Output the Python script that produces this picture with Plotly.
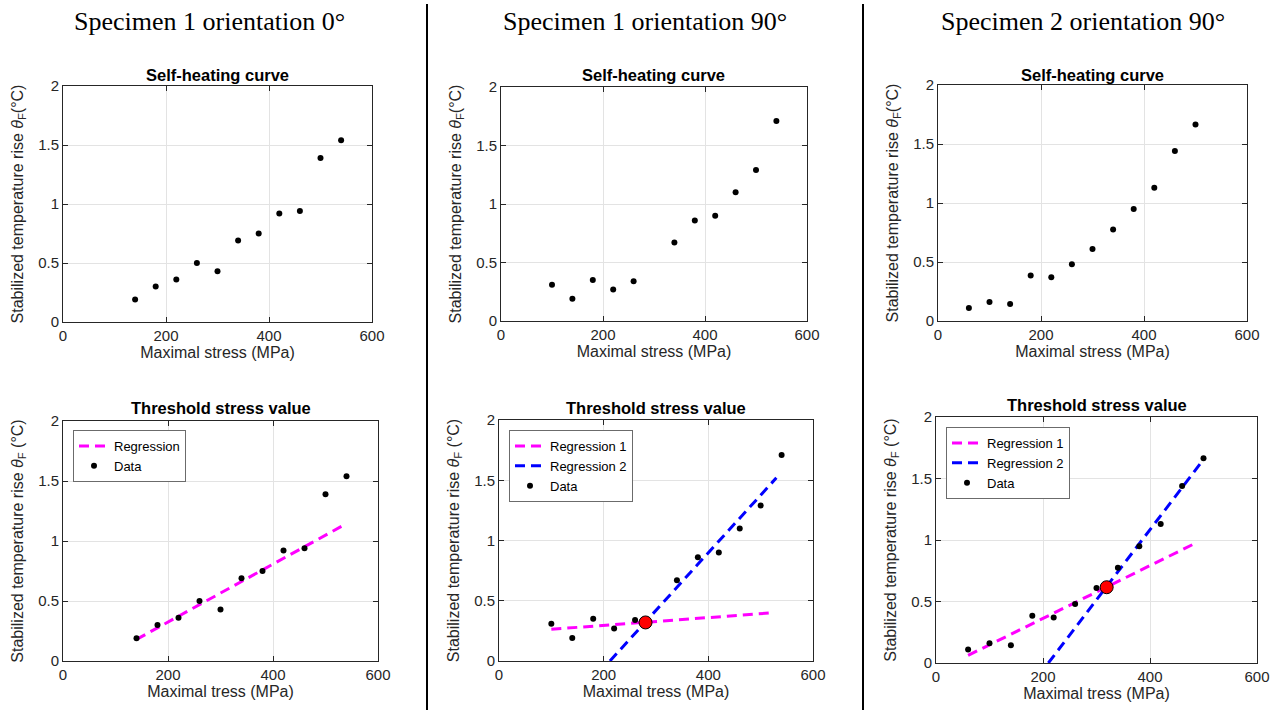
import plotly.graph_objects as go

W, H = 1278, 710

# ---------------- data ----------------
stress_s1_0 = [140, 180, 220, 260, 300, 340, 380, 420, 460, 500, 540]
theta_s1_0 = [0.19, 0.30, 0.36, 0.50, 0.43, 0.69, 0.75, 0.92, 0.94, 1.39, 1.54]
reg_s1_0_x = [140, 540]
reg_s1_0_y = [0.18, 1.145]

stress_s1_90 = [100, 140, 180, 220, 260, 340, 380, 420, 460, 500, 540]
theta_s1_90 = [0.31, 0.19, 0.35, 0.27, 0.34, 0.67, 0.86, 0.90, 1.10, 1.29, 1.71]
reg1_s1_90_x = [100, 523]
reg1_s1_90_y = [0.263, 0.40]
reg2_s1_90_x = [212, 530]
reg2_s1_90_y = [0.0, 1.52]
thr_s1_90_x = [280]
thr_s1_90_y = [0.32]

stress_s2_90 = [60, 100, 140, 180, 220, 260, 300, 340, 380, 420, 460, 500]
theta_s2_90 = [0.11, 0.16, 0.145, 0.385, 0.37, 0.48, 0.61, 0.775, 0.95, 1.13, 1.44, 1.665]
reg1_s2_90_x = [60, 482]
reg1_s2_90_y = [0.062, 0.968]
reg2_s2_90_x = [210, 499]
reg2_s2_90_y = [0.0, 1.649]
thr_s2_90_x = [319]
thr_s2_90_y = [0.616]

x_ticks = [0, 200, 400, 600]
y_ticks = [0, 0.5, 1, 1.5, 2]
y_ticklabels = ["0", "0.5", "1", "1.5", "2"]

main_titles = ["Specimen 1 orientation 0°", "Specimen 1 orientation 90°", "Specimen 2 orientation 90°"]

# ---------------- layout geometry (pixels) ----------------
panels = [  # left, right, top, bottom
    (63, 372, 86, 322),
    (501, 807, 87, 321),
    (938, 1247, 85, 321),
    (63, 378, 421, 661),
    (499, 813, 420, 661),
    (936, 1257, 417, 663),
]

AX = "#262626"
GRID = "#e3e3e3"
FONT = "Liberation Sans, Arial, Helvetica, sans-serif"

fig = go.Figure()

def xy(i):
    return ("x" if i == 0 else f"x{i+1}"), ("y" if i == 0 else f"y{i+1}")

def data_trace(i, xs, ys, legend=None, show=False):
    xa, ya = xy(i)
    fig.add_trace(go.Scatter(
        x=xs, y=ys, mode="markers", name="Data",
        marker=dict(color="black", size=6),
        xaxis=xa, yaxis=ya, showlegend=show,
        legend=legend if legend else "legend"))

def reg_trace(i, xs, ys, name, color, legend):
    xa, ya = xy(i)
    fig.add_trace(go.Scatter(
        x=xs, y=ys, mode="lines", name=name,
        line=dict(color=color, width=3, dash="10px,6px"),
        xaxis=xa, yaxis=ya, showlegend=True, legend=legend))

def thr_trace(i, xs, ys):
    xa, ya = xy(i)
    fig.add_trace(go.Scatter(
        x=xs, y=ys, mode="markers", name="Threshold",
        marker=dict(color="#ff0000", size=13, line=dict(color="black", width=1)),
        xaxis=xa, yaxis=ya, showlegend=False))

# top row
data_trace(0, stress_s1_0, theta_s1_0)
data_trace(1, stress_s1_90, theta_s1_90)
data_trace(2, stress_s2_90, theta_s2_90)

# bottom row
reg_trace(3, reg_s1_0_x, reg_s1_0_y, "Regression", "#ff00ff", "legend")
data_trace(3, stress_s1_0, theta_s1_0, "legend", True)

reg_trace(4, reg1_s1_90_x, reg1_s1_90_y, "Regression 1", "#ff00ff", "legend2")
reg_trace(4, reg2_s1_90_x, reg2_s1_90_y, "Regression 2", "#0000ff", "legend2")
data_trace(4, stress_s1_90, theta_s1_90, "legend2", True)
thr_trace(4, thr_s1_90_x, thr_s1_90_y)

reg_trace(5, reg1_s2_90_x, reg1_s2_90_y, "Regression 1", "#ff00ff", "legend3")
reg_trace(5, reg2_s2_90_x, reg2_s2_90_y, "Regression 2", "#0000ff", "legend3")
data_trace(5, stress_s2_90, theta_s2_90, "legend3", True)
thr_trace(5, thr_s2_90_x, thr_s2_90_y)

layout = dict(
    template="none",
    width=W, height=H,
    margin=dict(l=0, r=0, t=0, b=0, pad=0, autoexpand=False),
    paper_bgcolor="white", plot_bgcolor="white",
    font=dict(family=FONT, color=AX),
    hovermode=False,
    annotations=[], shapes=[],
)

ytitle_top = "Stabilized temperature rise <i>θ</i><sub>F</sub>(°C)"
ytitle_bot = "Stabilized temperature rise <i>θ</i><sub>F</sub> (°C)"

for i, (l, r, t, b) in enumerate(panels):
    xa_key = "xaxis" if i == 0 else f"xaxis{i+1}"
    ya_key = "yaxis" if i == 0 else f"yaxis{i+1}"
    xa, ya = xy(i)
    common = dict(showgrid=True, gridcolor=GRID, gridwidth=1,
                  showline=True, linecolor=AX, linewidth=1, mirror="ticks",
                  ticks="inside", ticklen=5, tickcolor=AX, tickwidth=1,
                  tickfont=dict(size=15, color=AX, family=FONT), zeroline=False,
                  automargin=False)
    layout[xa_key] = dict(
        common, domain=[l / W, r / W], anchor=ya, range=[0, 600],
        tickmode="array", tickvals=x_ticks,
        title=dict(text="Maximal stress (MPa)" if i < 3 else "Maximal tress (MPa)",
                   font=dict(size=16, color=AX, family=FONT), standoff=3))
    layout[ya_key] = dict(
        common, domain=[1 - b / H, 1 - t / H], anchor=xa, range=[0, 2],
        tickmode="array", tickvals=y_ticks, ticktext=y_ticklabels,
        title=dict(text=ytitle_top if i < 3 else ytitle_bot,
                   font=dict(size=16, color=AX, family=FONT), standoff=10))
    sub = "Self-heating curve" if i < 3 else "Threshold stress value"
    ty = [75, 75, 75, 408, 408, 405][i]
    layout["annotations"].append(dict(
        text=f"<b>{sub}</b>", xref="paper", yref="paper",
        x=(l + r) / 2 / W, y=1 - ty / H, xanchor="center", yanchor="middle",
        showarrow=False, font=dict(size=16.5, color="black", family=FONT)))

for txt, cx in zip(main_titles, [209, 645, 1083]):
    layout["annotations"].append(dict(
        text=txt, xref="paper", yref="paper", x=cx / W, y=1 - 22 / H,
        xanchor="center", yanchor="middle", showarrow=False,
        font=dict(size=26, color="black",
                  family="Liberation Serif, Times New Roman, serif")))

for sx in [427, 863]:
    layout["shapes"].append(dict(
        type="line", xref="paper", yref="paper", x0=sx / W, x1=sx / W,
        y0=0, y1=1 - 4 / H, line=dict(color="black", width=2)))

legend_common = dict(xanchor="left", yanchor="top", bgcolor="white",
                     bordercolor="#6b6b6b", borderwidth=1,
                     font=dict(size=13, color="black", family=FONT),
                     tracegroupgap=0, itemwidth=30)
layout["legend"] = dict(legend_common, x=73 / W, y=1 - 430 / H)
layout["legend2"] = dict(legend_common, x=509 / W, y=1 - 430 / H)
layout["legend3"] = dict(legend_common, x=946 / W, y=1 - 427 / H)

fig.update_layout(**layout)
fig.write_html(
    "out.html",
    config={"displayModeBar": False, "staticPlot": True},
    post_script="document.body.style.margin='0px';document.body.style.overflow='hidden';",
)
